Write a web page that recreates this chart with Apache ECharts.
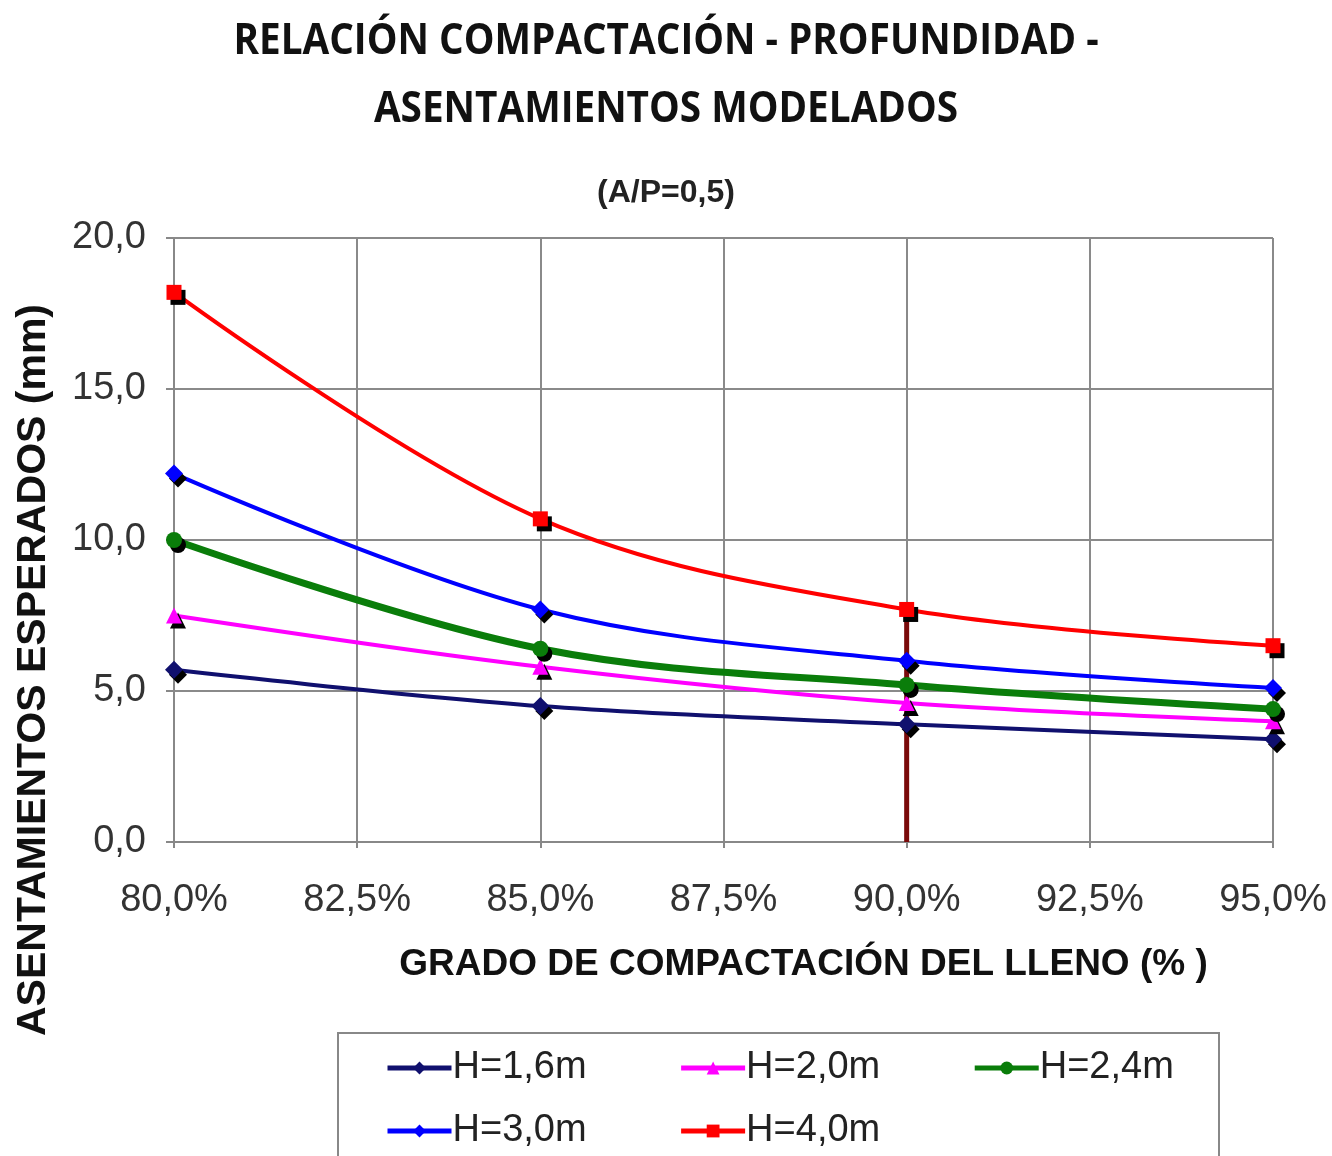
<!DOCTYPE html>
<html>
<head>
<meta charset="utf-8">
<script src="https://cdn.jsdelivr.net/npm/echarts@6/dist/echarts.min.js"></script>
<style>
  html, body { margin: 0; padding: 0; background: #fff; }
  #chart { width: 1332px; height: 1156px; }
</style>
</head>
<body>
<div id="chart"></div>
<script>
// Grado de compactación (%)
const compactacion = [80, 85, 90, 95];

// Asentamientos esperados (mm) por profundidad H
const h16 = [5.7, 4.5, 3.9, 3.4];
const h20 = [7.5, 5.8, 4.6, 4.0];
const h24 = [10.0, 6.4, 5.2, 4.4];
const h30 = [12.2, 7.7, 6.0, 5.1];
const h40 = [18.2, 10.7, 7.7, 6.5];

// Línea vertical de referencia en 90 %
const refX = 90;
const refTop = 7.7;

const titleLines = ['RELACIÓN COMPACTACIÓN - PROFUNDIDAD -', 'ASENTAMIENTOS MODELADOS'];

const font = 'Liberation Sans, Arial, sans-serif';
const pair = (ys) => compactacion.map((x, i) => [x, ys[i]]);
const shadow = { shadowColor: '#000', shadowBlur: 0, shadowOffsetX: 4, shadowOffsetY: 5 };

function serie(name, data, color, symbol, size, width) {
  return {
    name, type: 'line', data: pair(data), smooth: 0.35,
    symbol, symbolSize: size,
    lineStyle: { color, width },
    itemStyle: Object.assign({ color }, shadow),
    z: 3
  };
}

// Título en letra condensada (texto escalado horizontalmente)
function titleText(text, y) {
  return {
    type: 'text', x: 666, y, scaleX: 0.9,
    style: {
      text, fill: '#111', textAlign: 'center', textVerticalAlign: 'middle',
      font: 'bold 43px "Open Sans", sans-serif'
    }
  };
}

const legendText = { fontFamily: font, fontSize: 38, color: '#222', padding: [0, 0, 0, -4] };

const chart = echarts.init(document.getElementById('chart'), null, { renderer: 'canvas' });
chart.setOption({
  animation: false,
  backgroundColor: '#fff',
  title: [
    {
      text: '(A/P=0,5)',
      left: 'center', top: 172,
      textStyle: { fontFamily: font, fontWeight: 'bold', fontSize: 32, color: '#222' }
    }
  ],
  grid: { left: 174, right: 59, top: 238, bottom: 314 },
  xAxis: {
    type: 'value', min: 80, max: 95, interval: 2.5,
    name: 'GRADO DE COMPACTACIÓN DEL LLENO (% )',
    nameLocation: 'middle', nameGap: 104,
    nameTextStyle: { fontFamily: font, fontWeight: 'bold', fontSize: 37, color: '#111', padding: [0, 0, 0, 160] },
    axisLine: { lineStyle: { color: '#888', width: 2 } },
    axisTick: { show: true, length: 6, lineStyle: { color: '#888', width: 2 } },
    axisLabel: {
      fontFamily: font, fontSize: 38, color: '#333', margin: 40,
      formatter: v => v.toFixed(1).replace('.', ',') + '%'
    },
    splitLine: { show: true, lineStyle: { color: '#8a8a8a', width: 2 } }
  },
  yAxis: {
    type: 'value', min: 0, max: 20, interval: 5,
    name: 'ASENTAMIENTOS ESPERADOS (mm)',
    nameLocation: 'middle', nameGap: 120, nameRotate: 90,
    nameTextStyle: { fontFamily: font, fontWeight: 'bold', fontSize: 41, color: '#111', padding: [0, 260, 0, 0] },
    axisLine: { show: true, lineStyle: { color: '#888', width: 2 } },
    axisTick: { show: true, length: 8, lineStyle: { color: '#888', width: 2 } },
    axisLabel: {
      fontFamily: font, fontSize: 38, color: '#333', margin: 28,
      formatter: v => v.toFixed(1).replace('.', ',')
    },
    splitLine: { show: true, lineStyle: { color: '#8a8a8a', width: 2 } }
  },
  legend: [
    {
      data: ['H=1,6m', 'H=2,0m', 'H=2,4m'],
      left: 380, top: 1044, itemWidth: 64, itemHeight: 16, itemGap: 92,
      lineStyle: { width: 5 },
      textStyle: legendText
    },
    {
      data: ['H=3,0m', 'H=4,0m'],
      left: 380, top: 1107, itemWidth: 64, itemHeight: 16, itemGap: 92,
      lineStyle: { width: 5 },
      textStyle: legendText
    }
  ],
  graphic: [
    titleText(titleLines[0], 42),
    titleText(titleLines[1], 110),
    {
      type: 'rect', left: 337, top: 1032, z: -1,
      shape: { width: 881, height: 150 },
      style: { fill: '#fff', stroke: '#888', lineWidth: 2 }
    }
  ],
  series: [
    {
      name: 'ref', type: 'line', data: [[refX, 0], [refX, refTop]],
      symbol: 'none', lineStyle: { color: '#7a0a0a', width: 5 }, z: 2,
      silent: true
    },
    serie('H=1,6m', h16, '#10106e', 'diamond', 18, 4),
    serie('H=2,0m', h20, '#ff00ff', 'triangle', 16, 4),
    serie('H=2,4m', h24, '#0a7d0a', 'circle', 16, 7),
    serie('H=3,0m', h30, '#0000ff', 'diamond', 18, 4),
    serie('H=4,0m', h40, '#ff0000', 'rect', 15, 4)
  ]
});
</script>
</body>
</html>
